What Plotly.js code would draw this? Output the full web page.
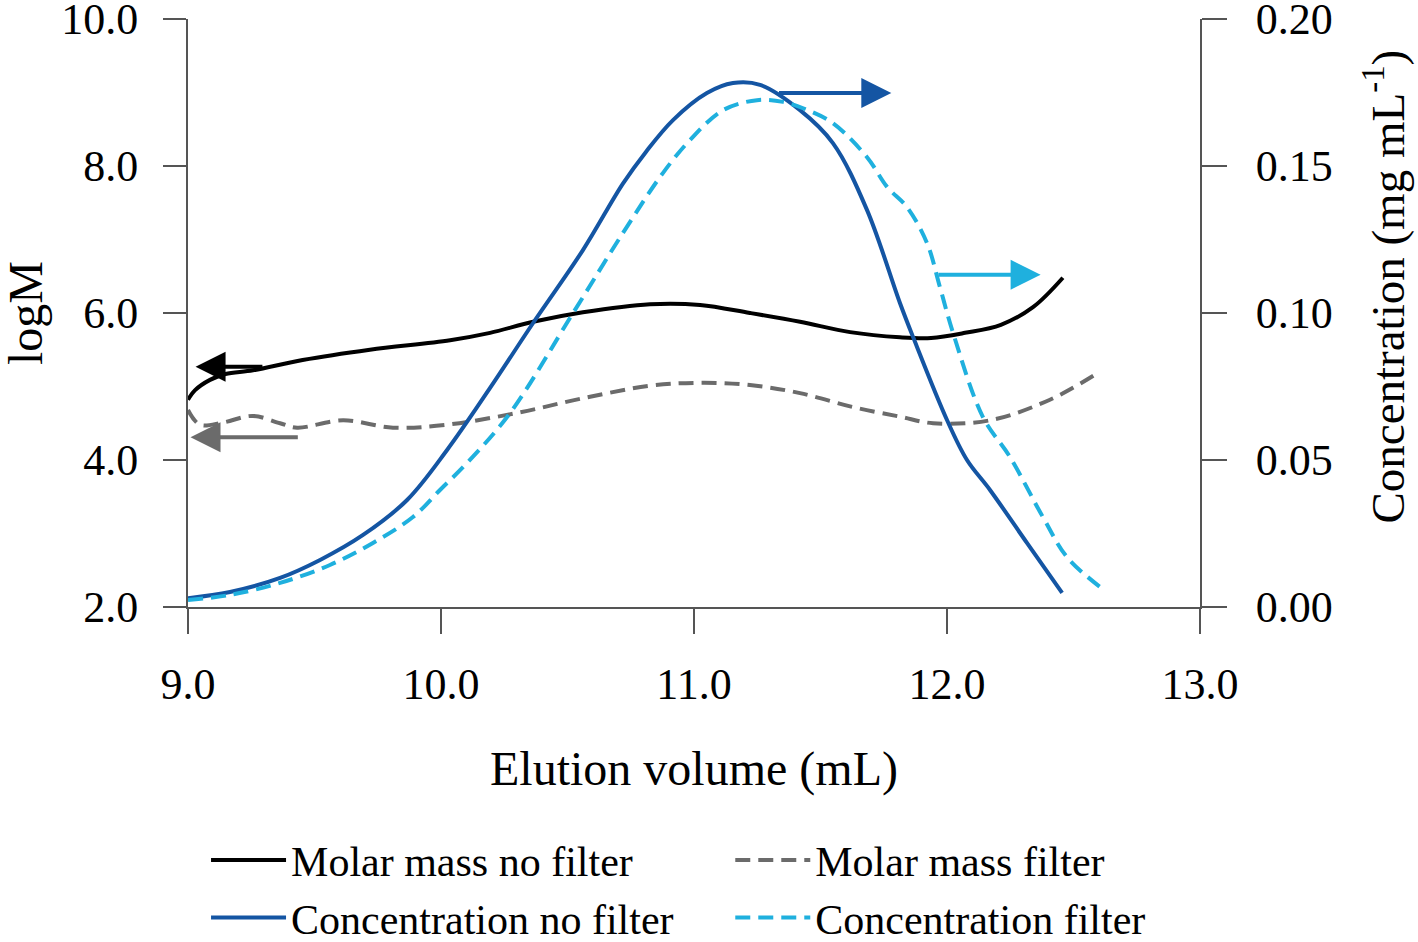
<!DOCTYPE html>
<html>
<head>
<meta charset="utf-8">
<script src="https://cdn.plot.ly/plotly-3.0.1.min.js"></script>
<style>html,body{margin:0;padding:0;background:#fff;}#chart{width:1418px;height:942px;}</style>
</head>
<body>
<div id="chart"></div>
<script>
// Molar mass, no filter (logM, left axis)
const mmNoFilterX = [9.0, 9.028, 9.087, 9.148, 9.257, 9.453, 9.719, 10.036, 10.194, 10.364, 10.561, 10.826, 11.024, 11.221, 11.419, 11.617, 11.814, 11.937, 12.071, 12.213, 12.34, 12.458];
const mmNoFilterY = [4.82, 4.95, 5.09, 5.17, 5.22, 5.36, 5.50, 5.63, 5.73, 5.88, 6.01, 6.12, 6.11, 6.00, 5.88, 5.74, 5.67, 5.66, 5.73, 5.84, 6.08, 6.48];
// Molar mass, filter (logM, left axis)
const mmFilterX = [9.0, 9.047, 9.138, 9.257, 9.364, 9.431, 9.613, 9.81, 10.024, 10.3, 10.561, 10.826, 11.024, 11.221, 11.419, 11.628, 11.814, 11.945, 12.17, 12.407, 12.585];
const mmFilterY = [4.68, 4.48, 4.51, 4.60, 4.50, 4.44, 4.54, 4.44, 4.48, 4.64, 4.84, 5.01, 5.05, 5.02, 4.91, 4.72, 4.59, 4.50, 4.54, 4.82, 5.16];
// Concentration, no filter (mg/mL, right axis)
const cNoFilterX = [9.0, 9.166, 9.364, 9.522, 9.692, 9.866, 10.024, 10.194, 10.364, 10.561, 10.719, 10.81, 10.917, 11.051, 11.154, 11.261, 11.419, 11.549, 11.684, 11.814, 11.866, 12.0, 12.079, 12.17, 12.316, 12.455];
const cNoFilterY = [0.003, 0.0051, 0.0099, 0.016, 0.0245, 0.0364, 0.0534, 0.0745, 0.0966, 0.1214, 0.1440, 0.1548, 0.1656, 0.1748, 0.1782, 0.1776, 0.169, 0.1578, 0.135, 0.1034, 0.0918, 0.0636, 0.050, 0.0398, 0.0218, 0.0048];
// Concentration, filter (mg/mL, right axis)
const cFilterX = [9.0, 9.166, 9.364, 9.561, 9.731, 9.889, 9.996, 10.103, 10.273, 10.522, 10.719, 10.877, 10.984, 11.115, 11.249, 11.352, 11.45, 11.55, 11.684, 11.763, 11.842, 11.921, 11.972, 12.024, 12.142, 12.249, 12.379, 12.474, 12.605];
const cFilterY = [0.0024, 0.0041, 0.0082, 0.0143, 0.0218, 0.0306, 0.0398, 0.049, 0.066, 0.100, 0.1272, 0.1476, 0.1588, 0.169, 0.1724, 0.1718, 0.1690, 0.1645, 0.153, 0.1429, 0.136, 0.1238, 0.1088, 0.0932, 0.0646, 0.051, 0.0306, 0.017, 0.0068];

const seriesNames = ["Molar mass no filter", "Molar mass filter", "Concentration no filter", "Concentration filter"];
const xTickVals = [9, 10, 11, 12, 13];
const yTickVals = [2, 4, 6, 8, 10];
const y2TickVals = [0, 0.05, 0.10, 0.15, 0.20];
const xTitle = "Elution volume (mL)";
const yTitle = "logM";
const y2Title = "Concentration (mg mL<sup>-1</sup>)";

const FONT = "Liberation Serif, 'Times New Roman', serif";
const C_BLACK = "#000000", C_GREY = "#6b6b6b", C_DBLUE = "#1455a3", C_LBLUE = "#1fb0de";

const traces = [
  {x: mmNoFilterX, y: mmNoFilterY, name: seriesNames[0], yaxis: "y", mode: "lines", legend: "legend",
   line: {color: C_BLACK, width: 4, shape: "spline", smoothing: 1}},
  {x: mmFilterX, y: mmFilterY, name: seriesNames[1], yaxis: "y", mode: "lines", legend: "legend2",
   line: {color: C_GREY, width: 4, dash: "15px,8px", shape: "spline", smoothing: 1}},
  {x: cNoFilterX, y: cNoFilterY, name: seriesNames[2], yaxis: "y2", mode: "lines", legend: "legend",
   line: {color: C_DBLUE, width: 4, shape: "spline", smoothing: 1}},
  {x: cFilterX, y: cFilterY, name: seriesNames[3], yaxis: "y2", mode: "lines", legend: "legend2",
   line: {color: C_LBLUE, width: 4, dash: "15px,8px", shape: "spline", smoothing: 1}}
];

function arrow(x, y, ax, ay, yref, color) {
  return {x: x, y: y, ax: ax, ay: ay, xref: "x", yref: yref, axref: "x", ayref: yref,
    text: "", showarrow: true, arrowhead: 2, arrowsize: 1.5, arrowwidth: 4, arrowcolor: color, standoff: 0, startstandoff: 0};
}

const axisCommon = {
  showline: true, linecolor: "#555555", linewidth: 2, ticks: "outside", tickcolor: "#555555", tickwidth: 2,
  showgrid: false, zeroline: false, automargin: false, ticklabeloverflow: "allow",
  tickfont: {family: FONT, size: 44, color: "#000"}
};

const legendCommon = {orientation: "v", xref: "container", yref: "container", xanchor: "left", y: 0.123, yanchor: "top",
  font: {family: FONT, size: 42, color: "#000"}, traceorder: "normal", itemwidth: 75, bgcolor: "rgba(0,0,0,0)",
  tracegroupgap: 0};

const layout = {
  width: 1418, height: 942,
  margin: {l: 188, r: 218, t: 19, b: 335, autoexpand: false},
  paper_bgcolor: "#fff", plot_bgcolor: "#fff",
  font: {family: FONT, color: "#000"},
  showlegend: true,
  legend: Object.assign({}, legendCommon, {x: 0.1453}),
  legend2: Object.assign({}, legendCommon, {x: 0.5150}),
  xaxis: Object.assign({}, axisCommon, {range: [9, 13], tickvals: xTickVals, tickformat: ".1f", ticklen: 25,
    ticklabelstandoff: 12,
    title: {text: xTitle, font: {family: FONT, size: 48, color: "#000"}, standoff: 44}}),
  yaxis: Object.assign({}, axisCommon, {range: [2, 10], tickvals: yTickVals, tickformat: ".1f", ticklen: 23,
    ticklabelstandoff: 16}),
  yaxis2: Object.assign({}, axisCommon, {range: [0, 0.2], tickvals: y2TickVals, tickformat: ".2f", ticklen: 25,
    ticklabelstandoff: 20, overlaying: "y", side: "right"}),
  annotations: [
    arrow(9.03, 5.27, 9.30, 5.27, "y", C_BLACK),
    arrow(9.01, 4.31, 9.44, 4.31, "y", C_GREY),
    arrow(11.78, 0.1748, 11.33, 0.1748, "y2", C_DBLUE),
    arrow(12.37, 0.113, 11.96, 0.113, "y2", C_LBLUE),
    {text: yTitle, xref: "paper", yref: "paper", x: -0.161, y: 0.5, xanchor: "center", yanchor: "middle",
     textangle: -90, showarrow: false, font: {family: FONT, size: 48, color: "#000"}},
    {text: y2Title, xref: "paper", yref: "paper", x: 1.1828, y: 0.545, xanchor: "center", yanchor: "middle",
     textangle: -90, showarrow: false, font: {family: FONT, size: 47, color: "#000"}}
  ]
};

Plotly.newPlot("chart", traces, layout, {displayModeBar: false, staticPlot: true});
</script>
</body>
</html>
